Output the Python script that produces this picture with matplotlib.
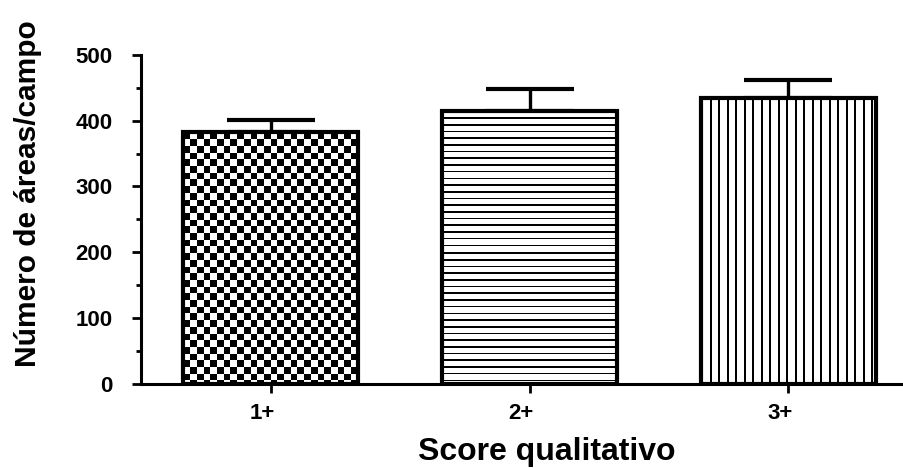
import matplotlib
matplotlib.use('Agg')
import matplotlib.pyplot as plt
import matplotlib.transforms as mtransforms
import numpy as np

plt.rcParams['font.family'] = ['Liberation Sans', 'DejaVu Sans']
plt.rcParams['font.weight'] = 'bold'

categories = ['1+', '2+', '3+']
means = [382, 415, 434]
sem = [19, 33, 27]
patterns = ['checker', 'hlines', 'vlines']

fig = plt.figure(figsize=(9.04, 4.68), dpi=100)
ax = fig.add_axes([0.156, 0.1795, 0.844, 0.7035])
x = np.arange(len(categories))

ax.set_xlim(-0.5, 2.446)
ax.set_ylim(0, 500)

ax.errorbar(x, means, yerr=[np.zeros(len(means)), sem], fmt='none', ecolor='black',
            elinewidth=2.4, capsize=31.5, capthick=3, zorder=1)
bars = ax.bar(x, means, width=0.675, facecolor='none', edgecolor='black',
              linewidth=3, zorder=3)


def pattern_image(kind, w, h):
    j, i = np.meshgrid(np.arange(w), np.arange(h))
    if kind == 'checker':
        return ((i // 6.7).astype(int) + (j // 6.7).astype(int)) % 2 == 0
    if kind == 'hlines':
        return (i % 6.7) < 1.6
    return (j % 8.5) < 1.6


fig.canvas.draw()
for bar, kind in zip(bars, patterns):
    x0, y0 = bar.get_x(), bar.get_y()
    x1, y1 = x0 + bar.get_width(), y0 + bar.get_height()
    (px0, py0), (px1, py1) = ax.transData.transform([(x0, y0), (x1, y1)])
    w, h = int(round(px1 - px0)), int(round(py1 - py0))
    img = pattern_image(kind, w, h)
    im = ax.imshow(1 - img.astype(float), cmap='gray', vmin=0, vmax=1,
                   extent=(x0, x1, y0, y1), origin='upper', aspect='auto',
                   interpolation='nearest', zorder=2)
    im.set_clip_path(bar)

ax.set_xlim(-0.5, 2.446)
ax.set_ylim(0, 500)

for side in ['top', 'right']:
    ax.spines[side].set_visible(False)
for side in ['left', 'bottom']:
    ax.spines[side].set_linewidth(2.2)

ax.set_yticks(np.arange(0, 501, 100))
ax.set_yticks(np.arange(50, 500, 100), minor=True)
ax.set_xticks(x)
ax.set_xticklabels(categories)
ax.tick_params(axis='both', which='major', width=2, length=6.5, labelsize=16)
ax.tick_params(axis='y', which='major', pad=14)
ax.tick_params(axis='x', which='major', pad=7)
ax.tick_params(axis='y', which='minor', width=2, length=3.6)
shift = mtransforms.ScaledTranslation(-6 / 72, 0, fig.dpi_scale_trans)
for lbl in ax.get_xticklabels():
    lbl.set_transform(lbl.get_transform() + shift)

ax.set_xlabel('Score qualitativo', fontsize=23, fontweight='bold')
ax.set_ylabel('Número de áreas/campo', fontsize=21.5, fontweight='bold')
ax.xaxis.set_label_coords(0.532, -0.16)
ax.yaxis.set_label_coords(-0.13, 0.578)

fig.savefig('out.png', dpi=100)
